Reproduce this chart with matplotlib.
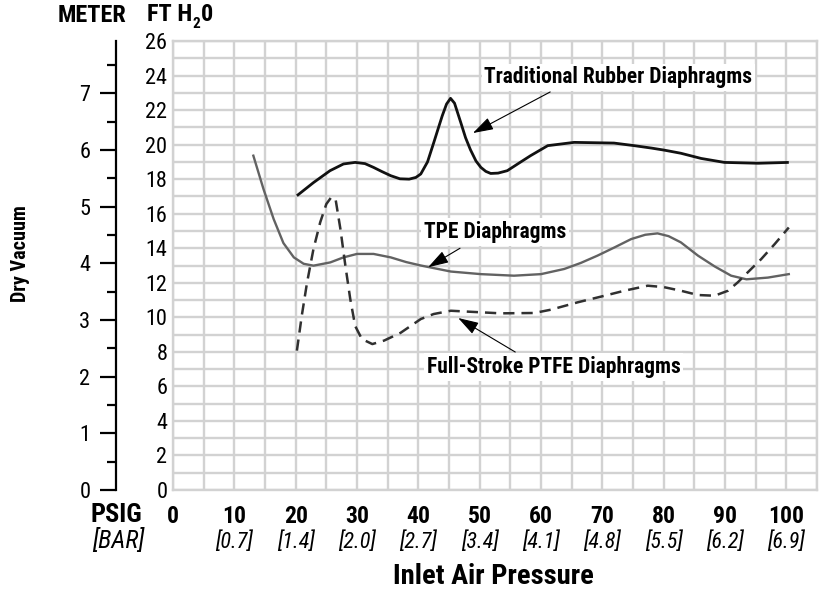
import numpy as np
import matplotlib
matplotlib.use("Agg")
import matplotlib.pyplot as plt
from matplotlib import font_manager as fm

# ---------------- data ----------------
psig_ticks = [0, 10, 20, 30, 40, 50, 60, 70, 80, 90, 100]
bar_labels = ["", "[0.7]", "[1.4]", "[2.0]", "[2.7]", "[3.4]", "[4.1]", "[4.8]", "[5.5]", "[6.2]", "[6.9]"]
ft_ticks = list(range(0, 27, 2))
meter_ticks = list(range(0, 8))

rubber_x = [20.2, 22.9, 25.6, 27.8, 29.7, 31.3, 32.7, 34.0, 35.5, 37.0, 38.5, 39.6, 40.4, 41.5,
            42.5, 43.3, 43.9, 44.6, 45.25, 45.9, 46.9, 47.7, 48.5, 49.4, 50.2, 51.0, 51.8, 53.0,
            54.5, 56.5, 58.3, 61.1, 65.4, 71.9, 75.2, 78.0, 80.1, 82.8, 86.1, 89.9, 95.4, 100.4]
rubber_y = [17.04, 17.8, 18.49, 18.88, 18.97, 18.9, 18.68, 18.45, 18.2, 18.02, 18.0, 18.1, 18.3, 19.0,
            20.1, 21.0, 21.67, 22.35, 22.68, 22.4, 21.3, 20.4, 19.7, 19.05, 18.68, 18.45, 18.33, 18.35,
            18.49, 18.95, 19.36, 19.94, 20.13, 20.09, 19.94, 19.8, 19.68, 19.5, 19.2, 18.97, 18.92, 18.97]

tpe_x = [13.1, 14.75, 16.4, 18.0, 19.7, 21.3, 22.9, 25.65, 27.8, 30.0, 32.7, 35.5, 38.0, 40.4, 45.3,
         50.2, 55.6, 60.0, 63.8, 66.5, 69.2, 72.0, 74.7, 77.0, 79.0, 80.8, 82.8, 85.6, 88.3, 91.0,
         93.5, 97.0, 100.4]
tpe_y = [19.36, 17.43, 15.7, 14.3, 13.47, 13.1, 12.99, 13.18, 13.47, 13.67, 13.67, 13.47, 13.2, 13.0, 12.65,
         12.5, 12.41, 12.5, 12.8, 13.15, 13.57, 14.05, 14.53, 14.78, 14.86, 14.7, 14.34, 13.57, 12.95, 12.41,
         12.2, 12.3, 12.5]

ptfe_x = [20.2, 21.0, 21.85, 22.9, 24.0, 25.0, 25.8, 26.5, 27.3, 28.1, 28.9, 29.7, 30.8, 32.5, 34.4,
          37.1, 40.4, 42.5, 45.3, 48.0, 53.4, 58.9, 61.6, 66.0, 69.8, 73.6, 77.4, 80.0, 82.8, 85.6,
          88.3, 90.5, 92.1, 93.7, 95.9, 98.1, 100.4]
ptfe_y = [8.07, 10.1, 12.0, 13.95, 15.5, 16.56, 16.95, 16.85, 15.1, 13.0, 11.06, 9.5, 8.74, 8.45, 8.65,
          9.1, 9.9, 10.19, 10.38, 10.33, 10.23, 10.25, 10.44, 10.87, 11.2, 11.54, 11.83, 11.75, 11.54, 11.29,
          11.25, 11.54, 12.03, 12.6, 13.37, 14.24, 15.2]

FT_PER_M = 3.28084

# ---------------- font ----------------
names = {f.name for f in fm.fontManager.ttflist}
FONT = "DejaVu Sans"
for cand in ["Liberation Sans Narrow", "Roboto Condensed", "Open Sans Condensed", "Arial Narrow"]:
    if cand in names:
        FONT = cand
        break
plt.rcParams["font.family"] = [FONT, "DejaVu Sans"]

W, H = 819, 595
fig = plt.figure(figsize=(W / 100, H / 100), dpi=100)
L, R, T, B = 173, 817, 41, 490
ax = fig.add_axes([L / W, 1 - B / H, (R - L) / W, (B - T) / H])
ax.set_xlim(0, 105)
ax.set_ylim(0, 26)

grid_c = "#d2d2d2"
ax.set_xticks(np.arange(0, 106, 5), minor=True)
ax.set_yticks(np.arange(0, 27, 1), minor=True)
ax.set_xticks(psig_ticks)
ax.set_xticklabels([str(v) for v in psig_ticks], fontsize=17, fontweight="bold")
ax.set_yticks(ft_ticks)
ax.set_yticklabels([str(v) for v in ft_ticks], fontsize=16)
ax.grid(which="both", color=grid_c, lw=1.7)
ax.set_axisbelow(True)
ax.tick_params(which="both", length=0)
ax.tick_params(axis="x", pad=11)
ax.tick_params(axis="y", pad=4)
for s in ax.spines.values():
    s.set_color(grid_c)
    s.set_linewidth(1.7)

# curves
ax.plot(rubber_x, rubber_y, color="#111111", lw=2.0, solid_joinstyle="round", solid_capstyle="butt", zorder=3)
ax.plot(tpe_x, tpe_y, color="#626262", lw=1.7, solid_joinstyle="round", zorder=3)
ax.plot(ptfe_x, ptfe_y, color="#303030", lw=1.8, dashes=(4.5, 2.8), zorder=3)

# bar labels
xt = ax.get_xaxis_transform()
for x, lab in zip(psig_ticks, bar_labels):
    if lab:
        ax.text(x, (B - 542) / (B - T), lab, transform=xt, ha="center", va="center",
                fontsize=16, fontstyle="italic", clip_on=False)

# meter axis
ax2 = fig.add_axes(ax.get_position())
ax2.set_ylim(0, 26 / FT_PER_M)
ax2.set_xlim(0, 1)
ax2.patch.set_visible(False)
ax2.xaxis.set_visible(False)
for k in ["top", "right", "bottom"]:
    ax2.spines[k].set_visible(False)
ax2.spines["left"].set_visible(True)
ax2.spines["left"].set_color("black")
ax2.spines["left"].set_position(("axes", -(L - 116) / (R - L)))
ax2.spines["left"].set_linewidth(1.6)
ax2.set_yticks(meter_ticks)
ax2.set_yticks(np.arange(0.5, 8, 1), minor=True)
ax2.set_yticklabels([str(v) for v in meter_ticks], fontsize=16)
ax2.tick_params(axis="y", which="major", length=11.5, width=1.6, direction="out", pad=7)
ax2.tick_params(axis="y", which="minor", length=6.5, width=1.6, direction="out")

# annotations
arrow = dict(arrowstyle="-|>,head_length=0.7,head_width=0.22", color="black", lw=0.8,
             shrinkA=0, shrinkB=0, mutation_scale=18)
box = dict(boxstyle="square,pad=0.12", fc="white", ec="none")
ax.annotate("", xy=(48.9, 20.67), xytext=(61.5, 23.05), arrowprops=arrow, zorder=4)
ax.text(72.6, 23.9, "Traditional Rubber Diaphragms", ha="center", va="center", fontsize=15.5,
        fontweight="bold", bbox=box, zorder=5)
ax.annotate("", xy=(41.6, 12.9), xytext=(46.8, 14.0), arrowprops=arrow, zorder=4)
ax.text(52.5, 14.94, "TPE Diaphragms", ha="center", va="center", fontsize=15.5,
        fontweight="bold", bbox=box, zorder=5)
ax.annotate("", xy=(46.5, 9.96), xytext=(55.8, 7.99), arrowprops=arrow, zorder=4)
ax.text(62.1, 7.12, "Full-Stroke PTFE Diaphragms", ha="center", va="center", fontsize=15.5,
        fontweight="bold", bbox=box, zorder=5)

# axis titles and headers
fig.text(92 / W, 1 - 16 / H, "METER", ha="center", va="center", fontsize=17.5, fontweight="bold")
t1 = fig.text(147 / W, 1 - 26 / H, "FT H", ha="left", va="bottom", fontsize=17.5, fontweight="bold")
t2 = ax.annotate("2", xy=(1, 0), xycoords=t1, xytext=(0.3, -3.5), textcoords="offset points",
                 ha="left", va="bottom", fontsize=11, fontweight="bold", annotation_clip=False)
ax.annotate("0", xy=(1, 0), xycoords=t2, xytext=(0.3, 3.5), textcoords="offset points",
            ha="left", va="bottom", fontsize=17.5, fontweight="bold", annotation_clip=False)
fig.text(21 / W, 1 - 254 / H, "Dry Vacuum", ha="center", va="center", rotation=90,
         fontsize=14.5, fontweight="bold")
fig.text(116 / W, 1 - 515 / H, "PSIG", ha="center", va="center", fontsize=19, fontweight="bold")
fig.text(118 / W, 1 - 541 / H, "[BAR]", ha="center", va="center", fontsize=18, fontstyle="italic")
fig.text(493 / W, 1 - 577 / H, "Inlet Air Pressure", ha="center", va="center", fontsize=20.5,
         fontweight="bold")

fig.savefig("out.png", dpi=100)
